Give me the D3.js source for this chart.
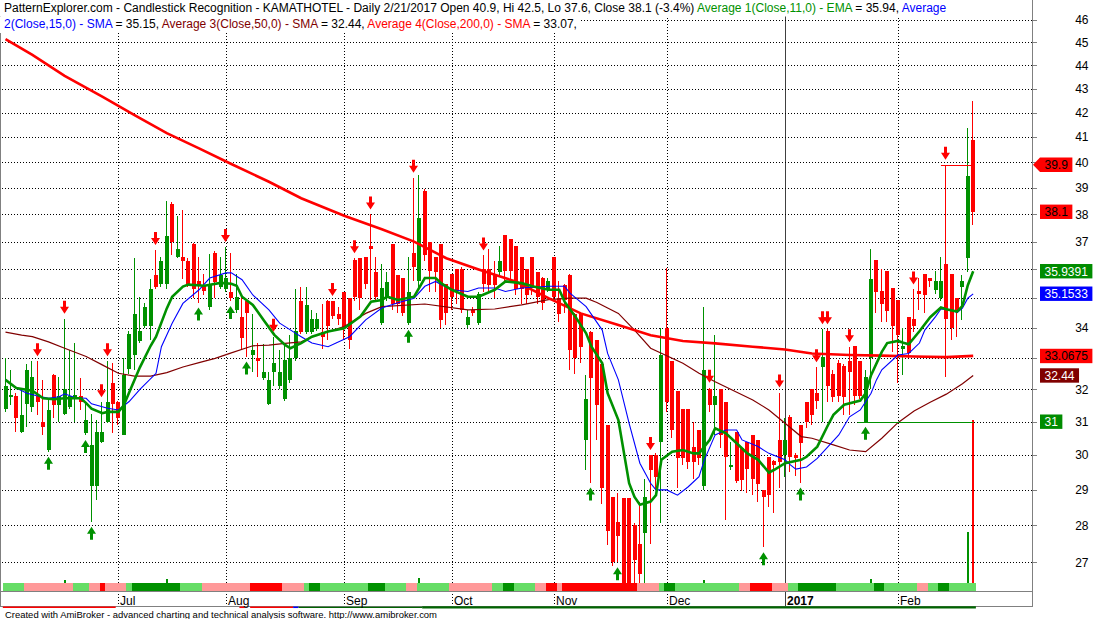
<!DOCTYPE html>
<html><head><meta charset="utf-8">
<script src="https://cdn.jsdelivr.net/npm/d3@7"></script>
<style>
html,body{margin:0;padding:0;background:#fff;}
svg{display:block;font-family:"Liberation Sans",Arial,sans-serif;}
</style></head><body>
<svg id="c" width="1093" height="619"></svg>
<script>
// ---------------- DATA ----------------
const opens=[31.4,31.75,31.8,30.7,31.55,31.45,31.8,31.0,30.15,32.45,31.5,31.25,31.45,31.75,31.8,30.65,29.1,29.1,30.4,31.0,
32.2,31.6,30.6,32.65,33.1,33.55,34.05,34.05,35.8,35.5,35.5,38.4,36.45,36.45,36.3,36.9,35.6,35.45,34.7,36.6,
35.4,35.3,35.2,34.6,34.35,34.9,33.1,33.0,32.35,31.55,32.55,32.1,31.7,32.3,33.0,34.9,33.85,33.85,33.95,33.85,
34.9,34.9,34.45,35.2,35.0,36.35,36.4,36.45,36.85,35.9,34.15,35.0,36.9,35.8,35.7,34.15,36.6,35.6,38.9,37.0,
36.45,36.9,35.5,35.85,36.0,36.0,34.1,34.6,34.15,36.0,36.0,35.8,35.9,37.25,37.1,36.85,36.45,36.0,36.45,35.9,
35.7,35.3,36.45,35.0,35.45,35.8,34.45,34.45,30.45,33.85,33.6,32.8,30.9,28.8,28.1,28.75,28.75,28.0,27.5,27.8,
30.0,30.0,30.4,34.0,32.9,31.95,31.4,31.4,30.25,30.75,29.1,32.0,31.5,32.0,31.6,29.65,30.7,30.2,30.4,30.6,
30.45,29.0,29.95,29.83,30.45,30.0,31.15,30.0,30.9,31.6,32.0,31.9,32.7,33.9,32.5,32.85,32.75,32.9,33.4,32.9,
31.0,33.0,36.35,35.25,35.95,35.35,34.95,33.3,34.35,34.3,35.25,35.85,35.7,35.28,35.0,36.2,35.85,35.0,35.37,36.4,
40.9];
const highs=[33.0,32.6,31.9,32.0,32.8,32.9,32.9,32.3,31.7,32.5,32.4,34.3,33.25,33.5,32.35,31.6,31.25,31.05,31.6,32.9,
32.85,31.65,33.0,33.9,36.4,35.05,34.85,35.65,36.7,36.45,38.5,38.45,37.95,38.15,36.4,36.95,36.45,35.85,36.55,36.65,
36.45,36.8,36.6,35.85,35.1,34.95,34.45,33.5,33.45,32.55,33.7,33.25,33.5,33.75,35.3,35.4,35.4,34.6,34.5,34.8,
34.95,34.9,34.7,35.2,35.0,36.4,36.4,36.45,38.0,36.45,36.2,35.9,36.9,35.8,35.7,36.45,39.4,39.5,38.95,37.0,
36.45,36.9,35.5,35.85,36.0,36.1,34.6,34.7,35.2,36.5,36.75,36.3,36.85,37.25,37.1,36.85,36.45,36.0,36.45,35.9,
35.75,35.7,36.45,35.6,35.5,35.85,34.5,34.5,32.45,33.9,33.6,32.8,30.9,28.8,28.9,28.75,28.75,28.05,28.65,29.3,
30.0,30.05,34.0,36.05,32.9,31.95,31.4,31.4,31.0,30.75,34.7,32.05,33.75,32.0,31.6,30.4,30.7,30.2,30.4,30.6,
30.45,29.0,29.95,29.85,31.9,31.1,31.2,30.05,30.9,31.6,32.0,32.7,33.95,33.95,32.6,32.95,32.8,33.35,33.4,32.9,
32.6,36.75,36.35,36.0,35.95,35.35,34.95,34.0,34.35,35.3,35.7,35.85,35.7,35.95,36.45,39.9,35.85,35.0,35.8,41.35,
42.5];
const lows=[31.3,31.5,30.7,30.65,30.85,31.3,31.2,30.6,30.1,31.1,31.0,31.2,31.4,31.0,31.35,30.6,28.1,28.7,30.35,30.95,
30.65,30.9,30.6,32.5,32.6,33.5,34.0,33.6,35.3,35.4,35.3,36.5,36.4,35.65,35.4,35.0,34.85,35.1,34.6,35.0,
35.3,35.2,34.9,34.5,33.3,33.05,32.55,32.4,32.3,31.5,32.1,32.0,31.65,32.2,32.9,33.8,33.8,33.8,33.9,33.3,
33.6,34.3,34.1,33.6,33.3,34.9,34.6,35.3,34.95,34.9,34.1,34.9,34.6,34.5,34.4,34.1,35.6,35.4,36.3,35.2,
35.2,34.0,34.1,34.6,34.8,34.5,34.0,34.4,34.1,35.2,35.2,35.0,35.8,35.6,35.6,35.1,34.8,34.8,35.1,34.8,
34.6,35.2,34.9,34.2,34.5,32.6,32.5,32.85,29.55,29.2,30.45,28.6,27.45,26.9,27.0,26.2,26.2,26.2,26.2,26.2,
27.5,29.0,28.05,31.3,30.5,29.05,29.7,29.6,29.3,29.7,29.0,31.3,30.6,30.2,28.15,29.55,29.2,28.97,28.9,28.85,
28.65,27.4,28.5,28.35,29.05,29.35,29.5,29.4,29.2,30.8,30.9,31.4,31.0,31.6,31.6,31.6,31.2,31.2,31.5,31.7,
31.0,32.0,34.5,34.2,34.2,33.2,32.2,32.45,33.0,33.85,34.6,34.5,35.4,35.15,34.9,32.4,33.6,33.7,34.25,35.9,
37.6];
const closes=[32.1,31.82,31.1,31.2,32.6,32.4,31.6,30.85,31.35,31.5,31.8,32.0,31.8,31.82,31.6,31.05,30.3,30.7,30.7,31.6,
31.55,31.1,32.45,33.8,34.45,33.9,34.7,35.3,35.4,36.3,37.2,37.0,36.75,36.3,35.5,35.3,35.45,35.25,35.45,35.55,
35.8,35.7,35.0,35.05,33.65,34.5,33.25,32.9,32.55,32.3,32.85,32.55,32.95,33.0,33.9,33.85,34.75,34.3,34.3,33.7,
34.05,34.4,34.3,34.0,33.6,35.05,35.0,35.5,36.75,35.05,35.35,35.55,34.8,34.8,34.5,35.2,36.1,37.85,36.5,35.95,
35.9,34.25,34.5,35.05,35.25,34.6,34.35,34.5,35.15,35.5,35.45,35.45,36.3,35.95,35.95,35.3,35.3,35.1,35.35,35.05,
34.85,35.6,35.05,34.45,34.95,33.25,33.0,33.35,31.7,32.35,31.5,29.05,27.85,27.0,27.7,26.3,26.3,27.05,26.7,28.8,
29.55,29.35,33.1,31.6,30.75,29.9,29.9,29.8,29.8,29.9,32.6,31.5,31.78,30.6,29.93,29.72,29.25,29.28,29.6,29.3,
29.15,28.78,28.85,29.7,29.8,30.45,29.95,29.9,30.35,31.0,31.2,31.65,33.05,32.1,31.75,31.8,31.75,32.55,31.8,31.8,
32.4,35.65,35.2,34.8,34.55,34.05,33.75,33.38,33.15,34.05,35.15,35.1,35.6,35.6,35.6,34.3,34.0,34.55,35.6,39.45,
38.1];
const volumes=[45,38,52,40,61,35,48,55,42,37,50,123,44,39,33,58,70,62,41,47,
53,36,66,72,95,40,38,57,49,44,135,60,42,55,39,48,52,37,45,41,
50,36,47,43,62,58,41,39,35,44,46,38,42,40,55,49,37,45,33,41,
48,52,36,44,50,63,47,71,58,46,40,38,55,43,49,42,68,146,75,52,
47,60,44,39,42,51,36,33,45,50,43,38,41,53,47,46,39,42,48,37,
44,36,49,52,41,73,55,48,69,62,58,80,77,72,66,70,64,59,61,57,
45,38,88,74,52,47,41,39,36,40,123,49,60,44,53,35,42,38,40,43,
47,54,39,37,50,44,46,35,48,41,39,43,58,52,40,38,44,47,51,42,
62,140,70,53,45,49,55,36,40,48,44,41,39,37,46,88,57,43,40,690,
2000];
// moving averages: [bar index, value]
const ema11Pts=[[0,32.30],[2,32.04],[5,31.96],[7,31.72],[9,31.69],[11,31.72],[14,31.72],[15,31.57],[16,31.40],[18,31.26],[19,31.30],[21,31.30],[22,31.50],[23,31.90],[25,32.7],[27,33.4],[28,33.7],[30,34.65],[31,35.05],[33,35.4],[34,35.47],[37,35.43],[40,35.53],[42,35.5],[43,35.43],[44,35.05],[46,34.77],[48,34.26],[50,33.76],[52,33.43],[53,33.32],[55,33.49],[57,33.70],[60,33.87],[63,33.98],[66,34.37],[68,34.88],[70,34.94],[71,35.05],[73,34.94],[76,35.05],[78,35.70],[80,35.70],[81,35.52],[83,35.29],[86,35.05],[88,35.05],[91,35.29],[93,35.58],[96,35.52],[98,35.41],[101,35.29],[103,35.29],[104,34.88],[106,34.37],[108,33.81],[109,33.37],[111,32.83],[112,31.88],[114,31.05],[116,29.18],[117,28.79],[118,28.57],[120,28.66],[121,28.84],[122,29.86],[124,30.1],[126,30.15],[128,30.05],[129,30.05],[131,30.45],[132,30.8],[134,30.65],[136,30.35],[138,30.05],[140,29.86],[142,29.49],[143,29.57],[145,29.76],[148,29.86],[149,29.95],[151,30.25],[153,30.9],[154,31.21],[156,31.52],[159,31.65],[160,31.88],[161,32.45],[163,33.2],[164,33.49],[166,33.56],[167,33.5],[168,33.45],[170,33.88],[172,34.35],[174,34.68],[175,34.62],[177,34.54],[178,34.74],[179,35.45],[180,35.94]];
const sma15Pts=[[0,32.3],[2,32.04],[4,31.88],[6,31.79],[8,31.72],[10,31.77],[11,31.86],[13,31.74],[15,31.72],[16,31.55],[19,31.41],[21,31.36],[23,31.62],[25,32.0],[28,32.51],[29,33.37],[31,34.15],[33,34.82],[36,35.29],[38,35.70],[41,35.88],[42,35.88],[44,35.64],[46,35.11],[49,34.6],[51,34.15],[54,33.81],[55,33.70],[57,33.49],[60,33.37],[64,33.7],[67,34.26],[70,34.66],[73,34.84],[76,35.0],[78,35.41],[80,35.58],[81,35.47],[83,35.29],[86,35.23],[88,35.35],[91,35.35],[93,35.23],[96,35.35],[101,35.41],[104,35.41],[105,35.17],[108,34.71],[111,33.92],[112,33.15],[114,32.3],[116,30.95],[118,29.76],[120,29.18],[121,28.99],[123,28.99],[125,28.84],[127,29.08],[129,29.37],[130,29.86],[132,30.6],[134,30.75],[136,30.75],[137,30.45],[140,30.25],[142,30.05],[145,29.86],[146,29.71],[147,29.59],[149,29.65],[151,29.9],[153,30.25],[155,30.6],[157,31.15],[159,31.36],[161,31.88],[162,32.3],[163,32.62],[166,33.1],[168,33.15],[170,33.49],[171,33.92],[173,34.37],[174,34.63],[176,34.6],[177,34.51],[178,34.66],[179,35.0],[180,35.15]];
const sma50Pts=[[0,33.85],[3,33.75],[5,33.7],[8,33.53],[11,33.32],[15,33.05],[18,32.78],[21,32.51],[24,32.42],[27,32.42],[30,32.53],[33,32.71],[36,32.85],[39,32.99],[42,33.17],[46,33.4],[49,33.42],[52,33.48],[55,33.53],[57,33.7],[63,34.04],[67,34.48],[70,34.71],[78,34.8],[86,34.6],[91,34.63],[96,34.77],[101,34.95],[105,35.0],[108,35.0],[110,34.85],[114,34.48],[117,33.92],[120,33.32],[126,32.83],[129,32.51],[132,32.24],[139,31.67],[142,31.36],[145,30.95],[148,30.55],[150,30.5],[154,30.3],[157,30.15],[160,30.1],[163,30.5],[166,30.97],[169,31.33],[172,31.6],[175,31.85],[178,32.18],[180,32.44]];
const sma200Pts=[[0,45.14],[5,44.45],[11,43.54],[18,42.66],[24,41.9],[30,41.16],[36,40.55],[42,39.93],[49,39.24],[55,38.61],[63,37.95],[70,37.45],[76,37.0],[82,36.4],[88,36.0],[95,35.57],[101,35.0],[107,34.48],[114,34.09],[120,33.75],[126,33.56],[132,33.48],[139,33.37],[145,33.28],[150,33.15],[157,33.1],[163,33.08],[169,33.05],[175,33.03],[180,33.07]];
const downArrows=[6,11,18,19,28,41,50,61,65,68,76,89,120,131,144,151,152,153,157,169,175];
const upArrows=[8,15,16,36,42,45,75,109,114,141,148,160];
const ribbonRuns=[["L",4],["P",9],["L",3],["P",2],["R",1],["P",4],["L",1],["D",9],["L",4],["P",9],["R",6],["P",4],["L",1],["D",2],["L",9],["D",3],["L",4],["P",2],["L",6],["P",8],["L",2],["D",2],["L",4],["P",2],["R",2],["P",1],["R",14],["P",4],["L",1],["D",2],["L",12],["P",2],["R",4],["P",3],["L",2],["D",7],["L",7],["D",2],["L",6],["P",2],["L",2],["D",2],["L",5]];
const trendRuns=[[0,20,"dn"],[44,44,"dn"],[46,53,"dn"],[54,54,"fl"],[55,77,"uw"],[78,180,"up"]];
const monthStarts=[21,41,63,83,102,123,145,166];
const monthLabels=["Jul","Aug","Sep","Oct","Nov","Dec","2017","Feb"];
const priceTicks=[27,28,29,30,31,32,33,34,35,36,37,38,39,40,41,42,43,44,45,46];
const supportLevel=[159,31];      // [from bar, price]
const resistLevel=[174,39.9];
const lastValues=[39.9,38.1,35.9391,35.1533,33.0675,32.44,31];
const lastLabels=["39.9","38.1","35.9391","35.1533","33.0675","32.44","31"];

// ---------------- CHART ----------------
const svg=d3.select("#c");
const N=closes.length;
const x=d3.scaleLinear().domain([0,N-1]).range([5.5,973.2]);
const step=x(1)-x(0);
const y=d3.scaleLog().domain([27,46]).range([562.3,20]);
const GREEN="#009100", RED="#ff0000", BLUE="#0000ff", MAROON="#800000";

svg.append("rect").attr("width",1093).attr("height",619).attr("fill","#fff");
svg.append("defs").append("clipPath").attr("id","pc").append("rect")
  .attr("x",2).attr("y",0).attr("width",1030).attr("height",591);

// vertical month lines
svg.append("g").selectAll("line").data(monthStarts).join("line")
  .attr("x1",d=>Math.round(x(d))+0.5).attr("x2",d=>Math.round(x(d))+0.5)
  .attr("y1",0).attr("y2",606)
  .attr("stroke",(d,i)=>monthLabels[i]==="2017"?"#404040":"#000")
  .attr("stroke-dasharray",(d,i)=>monthLabels[i]==="2017"?null:"1,2");

const g=svg.append("g").attr("clip-path","url(#pc)");
// horizontal grid
g.append("g").selectAll("line").data(priceTicks).join("line")
  .attr("x1",2).attr("x2",1032)
  .attr("y1",d=>Math.round(y(d))+0.5).attr("y2",d=>Math.round(y(d))+0.5)
  .attr("stroke","#000").attr("stroke-dasharray","1,2");

const idx=d3.range(N);
// candles
const cg=g.append("g").attr("shape-rendering","crispEdges");
const col=i=>closes[i]>=opens[i]?GREEN:RED;
cg.selectAll(".w").data(idx).join("rect")
  .attr("x",i=>Math.round(x(i))-1).attr("width",1)
  .attr("y",i=>y(highs[i])).attr("height",i=>Math.max(1,y(lows[i])-y(highs[i])))
  .attr("fill",col);
cg.selectAll(".b").data(idx).join("rect")
  .attr("x",i=>Math.round(x(i))-2).attr("width",4)
  .attr("y",i=>y(Math.max(opens[i],closes[i])))
  .attr("height",i=>Math.max(1,Math.abs(y(opens[i])-y(closes[i]))))
  .attr("fill",col);

// volume
const vH=d3.scaleLinear().domain([0,d3.max(volumes)]).range([0,171.5]);
g.append("g").attr("shape-rendering","crispEdges").selectAll("rect").data(idx).join("rect")
  .attr("x",i=>Math.round(x(i))-1).attr("width",2)
  .attr("y",i=>591-vH(volumes[i])).attr("height",i=>vH(volumes[i]))
  .attr("fill",col);

// ribbon
const ribbonCodes=[];ribbonRuns.forEach(([c,n])=>{for(let k=0;k<n;k++)ribbonCodes.push(c);});
const rc={L:"#66dd66",D:"#009100",P:"#ff9999",R:"#ff0000"};
g.append("g").attr("shape-rendering","crispEdges").selectAll("rect").data(ribbonCodes).join("rect")
  .attr("x",(d,i)=>x(i)-step/2).attr("width",step+0.6)
  .attr("y",583).attr("height",8).attr("fill",d=>rc[d]);

// moving averages
const ln=d3.line().x(d=>x(d[0])).y(d=>y(d[1]));
g.append("path").attr("d",ln(sma50Pts)).attr("fill","none").attr("stroke",MAROON).attr("stroke-width",1.2);
g.append("path").attr("d",ln(sma200Pts)).attr("fill","none").attr("stroke",RED).attr("stroke-width",2.6);
g.append("path").attr("d",ln(sma15Pts)).attr("fill","none").attr("stroke",BLUE).attr("stroke-width",1.1);
g.append("path").attr("d",ln(ema11Pts)).attr("fill","none").attr("stroke",GREEN).attr("stroke-width",2.6);

// support / resistance
g.append("line").attr("x1",x(supportLevel[0])-step/2).attr("x2",x(N-1)).attr("y1",Math.round(y(supportLevel[1]))+0.5).attr("y2",Math.round(y(supportLevel[1]))+0.5).attr("stroke",GREEN);
g.append("line").attr("x1",x(resistLevel[0])).attr("x2",x(N-1)).attr("y1",Math.round(y(resistLevel[1]))+0.5).attr("y2",Math.round(y(resistLevel[1]))+0.5).attr("stroke",RED);

// arrows
function downPath(cx,t){return `M${cx-1.5},${t-13}L${cx+1.5},${t-13}L${cx+1.5},${t-7}L${cx+4.5},${t-7}L${cx},${t}L${cx-4.5},${t-7}L${cx-1.5},${t-7}Z`;}
function upPath(cx,t){return `M${cx-1.5},${t+13}L${cx+1.5},${t+13}L${cx+1.5},${t+7}L${cx+4.5},${t+7}L${cx},${t}L${cx-4.5},${t+7}L${cx-1.5},${t+7}Z`;}
g.append("g").selectAll("path").data(downArrows).join("path")
  .attr("d",i=>downPath(Math.round(x(i))-0.5,y(highs[i])-5)).attr("fill",RED);
g.append("g").selectAll("path").data(upArrows).join("path")
  .attr("d",i=>upPath(Math.round(x(i))-0.5,y(lows[i])+5)).attr("fill",GREEN);

// frame
const fr=svg.append("g").attr("stroke","#808080").attr("shape-rendering","crispEdges");
fr.append("line").attr("x1",0.5).attr("x2",0.5).attr("y1",0).attr("y2",607);
fr.append("line").attr("x1",1032.5).attr("x2",1032.5).attr("y1",0).attr("y2",607);
fr.append("line").attr("x1",0).attr("x2",1033).attr("y1",591.5).attr("y2",591.5);
fr.append("line").attr("x1",0).attr("x2",1033).attr("y1",606.5).attr("y2",606.5);
fr.selectAll(".tk").data(priceTicks).join("line")
  .attr("x1",1032).attr("x2",1037).attr("y1",d=>Math.round(y(d))+0.5).attr("y2",d=>Math.round(y(d))+0.5);

// trend underline
const tc={dn:[RED,1.5],fl:[BLUE,1.5],uw:["#006400",1.2],up:["#006400",2.2]};
svg.append("g").selectAll("line").data(trendRuns).join("line")
  .attr("x1",d=>x(d[0])-step/2).attr("x2",d=>x(d[1])+step/2)
  .attr("y1",607.3).attr("y2",607.3)
  .attr("stroke",d=>tc[d[2]][0]).attr("stroke-width",d=>tc[d[2]][1]);

// last-value label geometry (needed to know which tick labels they cover)
const lblStyle=[["#ff0000","#000",true],["#ff0000","#000",false],["#008c00","#fff",false],["#0000ff","#fff",false],["#ff0000","#000",false],["#800000","#fff",false],["#008c00","#fff",false]];
const meas=svg.append("text").attr("font-size",12).attr("visibility","hidden");
const lblW=lastLabels.map(s=>{meas.text(s);return meas.node().getComputedTextLength();});
meas.remove();

// y axis labels (those hidden behind a value label are not drawn, as in the reference)
const covered=t=>lastValues.some((v,k)=>1040+lblW[k]+9>1074 && Math.abs(y(v)-y(t))<11);
svg.append("g").selectAll("text").data(priceTicks.filter(t=>!covered(t))).join("text")
  .attr("x",1088.5).attr("y",d=>y(d)+4.3).attr("text-anchor","end")
  .attr("font-size",12).attr("fill","#000").text(d=>d);

// x labels
svg.append("g").selectAll("text").data(monthStarts).join("text")
  .attr("x",d=>Math.round(x(d))+2).attr("y",604.5).attr("font-size",12)
  .attr("font-weight",(d,i)=>monthLabels[i]==="2017"?"bold":null)
  .text((d,i)=>monthLabels[i]);

// last-value labels
const lg=svg.append("g");
lastValues.forEach((v,k)=>{
  const yy=y(v), st=lblStyle[k], w=lblW[k], r=1040+w+9;
  if(st[2]){
    lg.append("path").attr("d",`M1033,${yy}L1040,${yy-7.2}L${r},${yy-7.2}L${r},${yy+7.2}L1040,${yy+7.2}Z`).attr("fill",st[0]);
  } else {
    lg.append("rect").attr("x",1040).attr("y",yy-7.2).attr("width",w+9).attr("height",14.4).attr("fill",st[0]);
  }
  lg.append("text").attr("x",1044.5).attr("y",yy+4.3).attr("font-size",12).attr("fill",st[1]).text(lastLabels[k]);
});

// title
const f1=v=>v.toFixed(1);
const chg=((closes[N-1]/closes[N-2])-1)*100;
const line1=[[`PatternExplorer.com - Candlestick Recognition - KAMATHOTEL - Daily 2/21/2017 Open ${f1(opens[N-1])}, Hi ${f1(highs[N-1])}, Lo ${f1(lows[N-1])}, Close ${f1(closes[N-1])} (${f1(chg)}%) `,"#000"],
  ["Average 1(Close,11,0) - EMA",GREEN],[` = ${ema11Pts[ema11Pts.length-1][1].toFixed(2)}, `,"#000"],["Average",BLUE]];
const line2=[["2(Close,15,0) - SMA",BLUE],[` = ${sma15Pts[sma15Pts.length-1][1].toFixed(2)}, `,"#000"],["Average 3(Close,50,0) - SMA",MAROON],
  [` = ${sma50Pts[sma50Pts.length-1][1].toFixed(2)}, `,"#000"],["Average 4(Close,200,0) - SMA",RED],[` = ${sma200Pts[sma200Pts.length-1][1].toFixed(2)},`,"#000"]];
function titleLine(parts,base,top,h){
  const bg=svg.append("rect").attr("fill","#fff");
  const t=svg.append("text").attr("x",4).attr("y",base).attr("font-size",12).attr("xml:space","preserve");
  parts.forEach(p=>t.append("tspan").attr("fill",p[1]).text(p[0]));
  const w=t.node().getComputedTextLength();
  bg.attr("x",0).attr("y",top).attr("width",w+7).attr("height",h);
}
titleLine(line1,12.3,0,16.5);
titleLine(line2,28.3,16.5,16.5);

// footer
svg.append("text").attr("x",5).attr("y",617.5).attr("font-size",9).attr("fill","#000")
  .attr("textLength",432).attr("lengthAdjust","spacingAndGlyphs")
  .text("Created with AmiBroker - advanced charting and technical analysis software. http://www.amibroker.com");
</script>
</body></html>
